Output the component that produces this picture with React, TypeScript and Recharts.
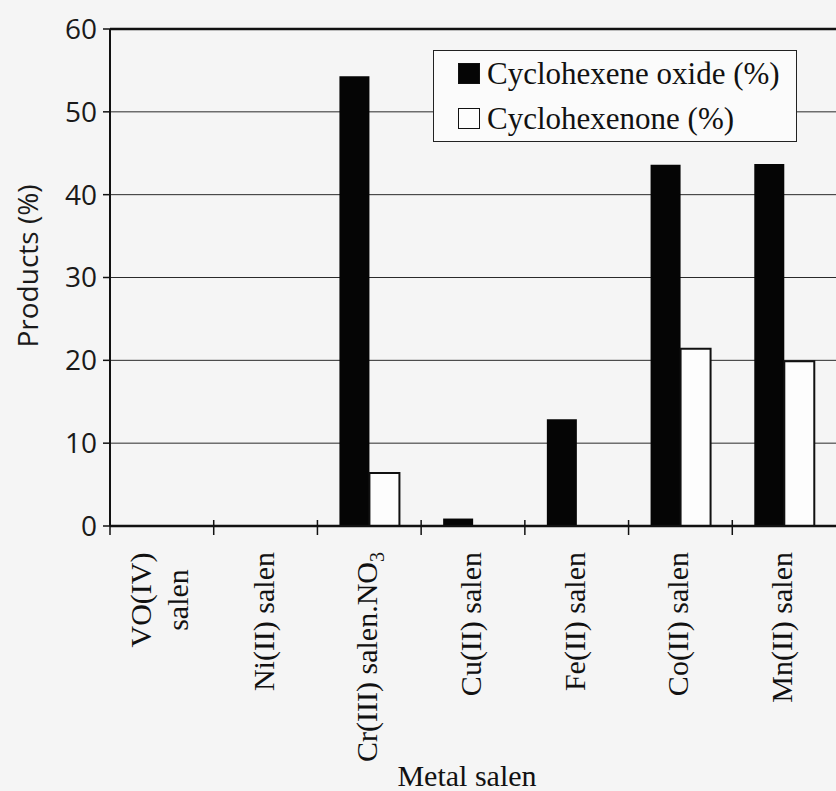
import React from 'react';
import { BarChart, Bar, XAxis, YAxis, CartesianGrid, Legend, ReferenceLine } from 'recharts';

const categories = [
  'VO(IV)\nsalen',
  'Ni(II) salen',
  'Cr(III) salen.NO3',
  'Cu(II) salen',
  'Fe(II) salen',
  'Co(II) salen',
  'Mn(II) salen',
];
const cyclohexeneOxide = [0, 0, 54.3, 0.9, 12.9, 43.6, 43.7];
const cyclohexenone = [0, 0, 6.4, 0, 0, 21.4, 19.9];
const yTicks = [0, 10, 20, 30, 40, 50, 60];
const seriesNames = ['Cyclohexene oxide (%)', 'Cyclohexenone (%)'];
const seriesFills = ['#050505', '#fdfdfd'];

const data = categories.map((name, i) => ({
  name,
  oxide: cyclohexeneOxide[i],
  enone: cyclohexenone[i],
}));

const CHART_W = 836;
const CHART_H = 791;
const Y_AXIS_W = 110;
const PLOT_W = CHART_W - Y_AXIS_W;
const SERIF = '"Liberation Serif", "Times New Roman", serif';
const SANS = '"Open Sans", "DejaVu Sans", sans-serif';

const XTick = (props: any) => {
  const { x, y, payload } = props;
  const band = PLOT_W / categories.length;
  const lines = String(payload.value).split('\n');
  const n = lines.length;
  const top = y + 26;
  const bx = x - band / 2;
  return (
    <g>
      <line x1={bx} y1={y - 6} x2={bx} y2={y + 9} stroke="#111" strokeWidth={1.5} />
      <g transform={`translate(${x},${top}) rotate(-90)`}>
        {lines.map((ln, i) => {
          const m = ln.match(/^(.*[A-Z])(\d+)$/);
          const off = 8 + (i - (n - 1) / 2) * 37;
          return (
            <text
              key={i}
              x={n > 1 ? -48 : 0}
              y={off}
              textAnchor={n > 1 ? 'middle' : 'end'}
              fontFamily={SERIF}
              fontSize={30}
              fill="#111"
            >
              {m ? (
                <>
                  {m[1]}
                  <tspan dy={7} fontSize={20}>
                    {m[2]}
                  </tspan>
                </>
              ) : (
                ln
              )}
            </text>
          );
        })}
      </g>
    </g>
  );
};

const YLabel = () => (
  <text
    x={38}
    y={266}
    transform="rotate(-90, 38, 266)"
    textAnchor="middle"
    fontFamily={SANS}
    fontSize={28}
    fill="#1a1a1a"
  >
    Products (%)
  </text>
);

const XLabel = () => (
  <text x={467} y={786} textAnchor="middle" fontFamily={SERIF} fontSize={30} fill="#111">
    Metal salen
  </text>
);

const LegendBox = (props: any) => {
  const payload = props.payload || [];
  return (
    <div
      style={{
        boxSizing: 'border-box',
        width: 364,
        height: 92,
        border: '1.5px solid #222',
        background: '#fbfbfb',
        fontFamily: SERIF,
        fontSize: 31,
        color: '#111',
        paddingLeft: 24,
      }}
    >
      {payload.map((e: any, i: number) => (
        <div key={i} style={{ display: 'flex', alignItems: 'center', height: 45, whiteSpace: 'nowrap' }}>
          <span
            style={{
              display: 'inline-block',
              boxSizing: 'border-box',
              width: 22,
              height: 21,
              background: seriesFills[i],
              border: '1.5px solid #111',
              marginRight: 7,
            }}
          />
          <span>{e.value}</span>
        </div>
      ))}
    </div>
  );
};

export default function App() {
  return (
    <div style={{ position: 'absolute', left: 0, top: 0, width: CHART_W, height: CHART_H, background: '#f5f5f5', overflow: 'hidden' }}>
      <BarChart
        width={CHART_W}
        height={CHART_H}
        data={data}
        margin={{ top: 29, right: 0, left: 0, bottom: 0 }}
        barCategoryGap={22}
        barGap={0}
      >
        <CartesianGrid vertical={false} stroke="#2a2a2a" strokeWidth={1} />
        <XAxis
          dataKey="name"
          interval={0}
          tickLine={false}
          tickSize={0}
          tickMargin={0}
          height={265}
          axisLine={{ stroke: '#111', strokeWidth: 2.5 }}
          tick={XTick}
          label={{ content: XLabel }}
        />
        <YAxis
          width={Y_AXIS_W}
          domain={[0, 60]}
          ticks={yTicks}
          interval={0}
          tickSize={7}
          tickMargin={6}
          axisLine={{ stroke: '#111', strokeWidth: 2 }}
          tickLine={{ stroke: '#111', strokeWidth: 1.5 }}
          tick={{ fontFamily: SANS, fontSize: 28, fill: '#1a1a1a' }}
          label={{ content: YLabel }}
        />
        <ReferenceLine y={60} stroke="#111" strokeWidth={2.5} />
        <Legend
          layout="horizontal"
          verticalAlign="middle"
          align="center"
          wrapperStyle={{ left: 433, top: 50, width: 364, height: 92 }}
          content={LegendBox}
        />
        <Bar dataKey="oxide" name={seriesNames[0]} fill={seriesFills[0]} isAnimationActive={false} />
        <Bar dataKey="enone" name={seriesNames[1]} fill={seriesFills[1]} stroke="#111" strokeWidth={2} isAnimationActive={false} />
      </BarChart>
    </div>
  );
}
